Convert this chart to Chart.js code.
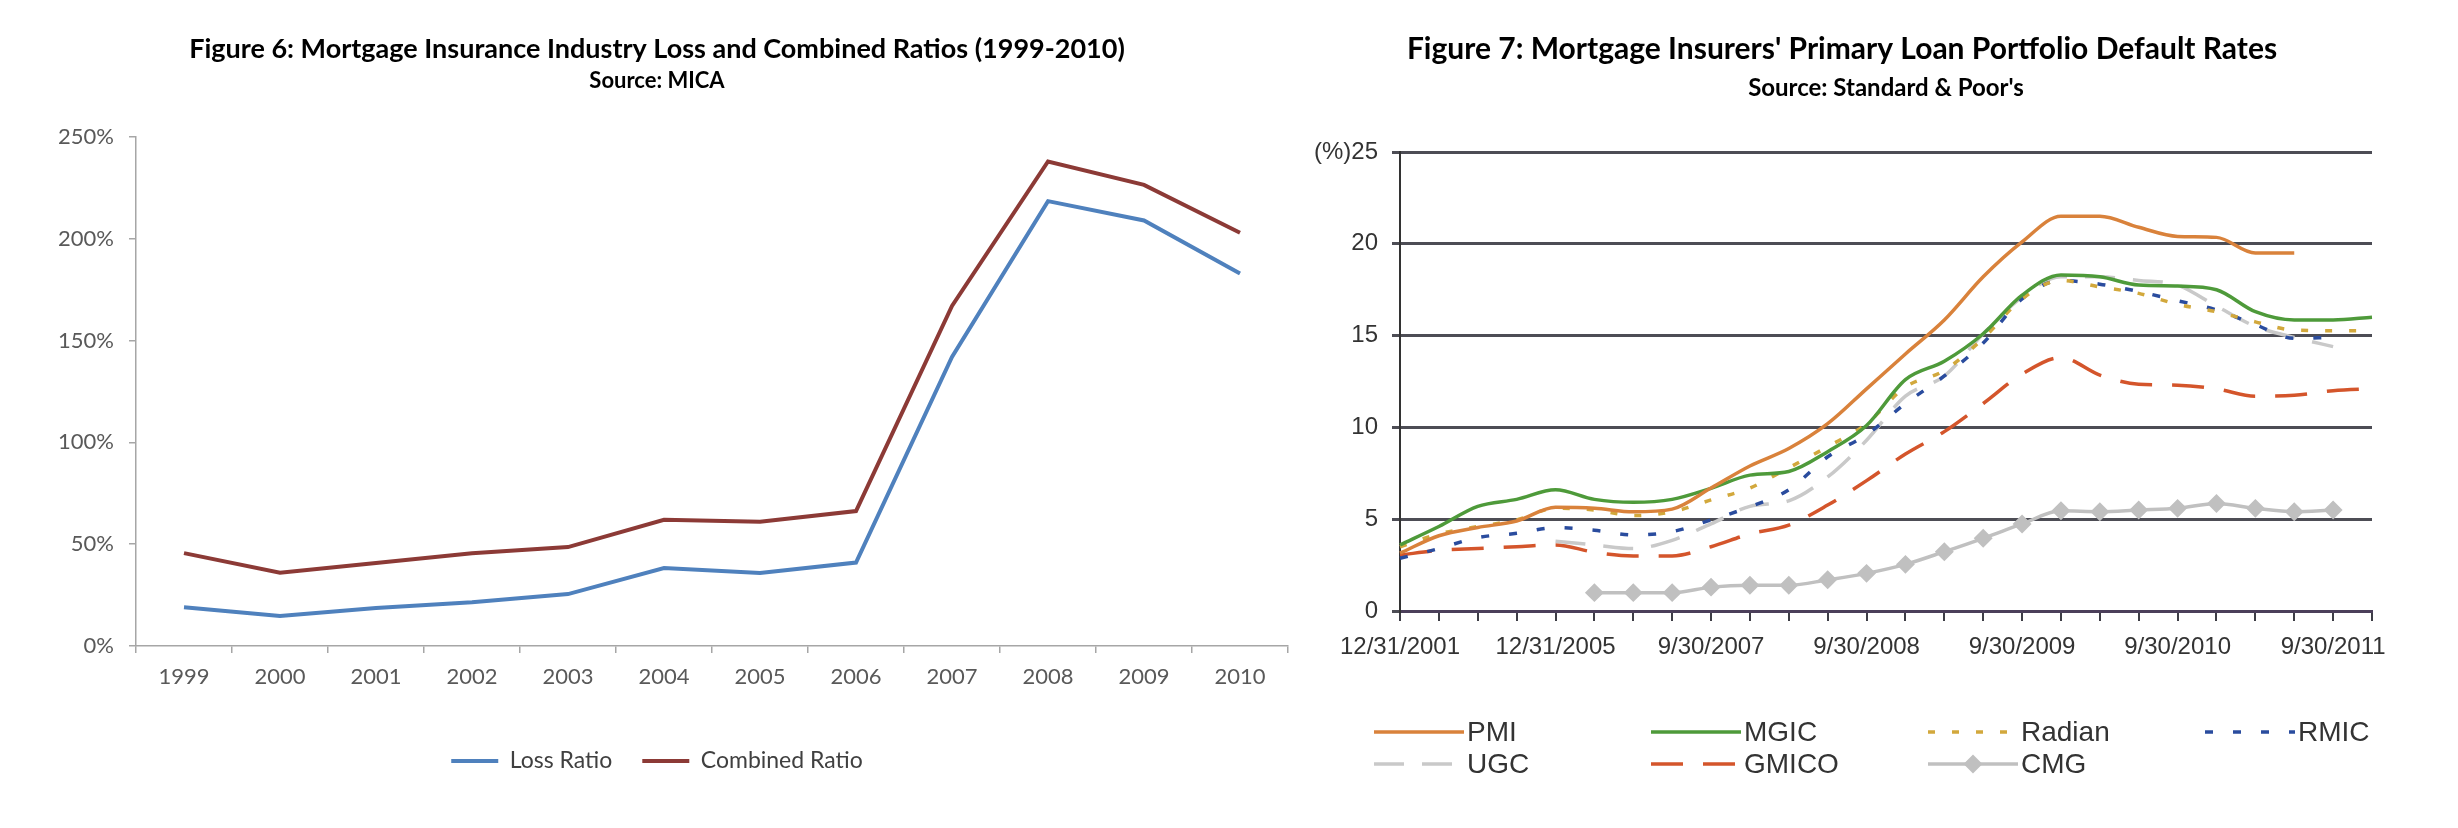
<!DOCTYPE html>
<html>
<head>
<meta charset="utf-8">
<script src="https://cdn.jsdelivr.net/npm/chart.js@4.4.1/dist/chart.umd.min.js"></script>
<style>
  html, body { margin: 0; padding: 0; background: #fff; overflow: hidden; }
  canvas { position: absolute; top: 0; }
  #ratioChart { left: 0; }
  #defaultChart { left: 1300px; }
</style>
</head>
<body>
<canvas id="ratioChart" width="1300" height="828"></canvas>
<canvas id="defaultChart" width="1158" height="828"></canvas>
<script>
// Figure 6 data (percent)
const years = ['1999', '2000', '2001', '2002', '2003', '2004', '2005', '2006', '2007', '2008', '2009', '2010'];
const lossRatio = [19, 14.7, 18.7, 21.5, 25.5, 38.3, 35.9, 41, 142, 218.5, 209, 183];
const combinedRatio = [45.6, 36, 40.8, 45.6, 48.6, 62, 61, 66.3, 167, 238, 226.5, 203];
const ratioTicks = ['0%', '50%', '100%', '150%', '200%', '250%'];

// Figure 7 data (default rate, %)
const quarters = [
  '12/31/2001', '12/31/2002', '12/31/2003', '12/31/2004', '12/31/2005', '6/30/2006',
  '12/31/2006', '6/30/2007', '9/30/2007', '12/31/2007', '3/31/2008', '6/30/2008',
  '9/30/2008', '12/31/2008', '3/31/2009', '6/30/2009', '9/30/2009', '12/31/2009',
  '3/31/2010', '6/30/2010', '9/30/2010', '12/31/2010', '3/31/2011', '6/30/2011',
  '9/30/2011', '12/31/2011'
];
const pmi    = [3.15, 4.1, 4.55, 4.9, 5.65, 5.6, 5.4, 5.55, 6.7, 7.9, 8.85, 10.2, 12.1, 14.0, 15.85, 18.2, 20.1, 21.5, 21.5, 20.9, 20.4, 20.35, 19.5, 19.5, null, null];
const mgic   = [3.6, 4.6, 5.7, 6.08, 6.6, 6.08, 5.92, 6.08, 6.68, 7.4, 7.6, 8.68, 10.1, 12.6, 13.6, 15.1, 17.2, 18.3, 18.2, 17.75, 17.7, 17.5, 16.3, 15.85, 15.85, 16.0];
const radian = [3.5, 4.2, 4.6, 4.96, 5.6, 5.5, 5.2, 5.4, 6.05, 6.7, 7.8, 8.95, 10.2, 12.2, 13.1, 14.85, 17.0, 18.0, 17.65, 17.3, 16.7, 16.3, 15.75, 15.3, 15.27, 15.27];
const rmic   = [2.87, 3.4, 4.0, 4.23, 4.54, 4.4, 4.14, 4.32, 4.96, 5.68, 6.6, 8.4, 9.6, 11.3, 12.8, 14.6, 17.0, 18.0, 17.8, 17.4, 16.9, 16.4, 15.6, 14.85, 14.9, null];
const ugc    = [null, null, null, null, 3.8, 3.6, 3.4, 3.85, 4.75, 5.7, 6.0, 7.3, 9.3, 11.7, 12.8, 15.1, 17.1, 18.2, 18.2, 18.0, 17.75, 16.6, 15.5, 14.9, 14.4, null];
const gmico  = [3.05, 3.3, 3.4, 3.5, 3.6, 3.2, 3.0, 3.0, 3.5, 4.2, 4.68, 5.77, 7.1, 8.55, 9.77, 11.3, 12.9, 13.8, 12.85, 12.35, 12.3, 12.1, 11.7, 11.75, 12.0, 12.1];
const cmg    = [null, null, null, null, null, 1.0, 1.0, 1.0, 1.3, 1.4, 1.4, 1.7, 2.05, 2.54, 3.23, 3.96, 4.74, 5.46, 5.41, 5.5, 5.59, 5.86, 5.59, 5.41, 5.5, null];
const defaultTicks = ['0', '5', '10', '15', '20', '(%)25'];

const calibriLike = 'Lato, "Open Sans", sans-serif';
const arialLike = '"Liberation Sans", Arial, sans-serif';

// ---------- Figure 6 ----------
const configRatio = {
  type: 'line',
  data: {
    labels: years,
    datasets: [
      { label: 'Loss Ratio', data: lossRatio, borderColor: '#4F81BD', backgroundColor: '#4F81BD', borderWidth: 4, pointRadius: 0, tension: 0 },
      { label: 'Combined Ratio', data: combinedRatio, borderColor: '#8C3A36', backgroundColor: '#8C3A36', borderWidth: 4, pointRadius: 0, tension: 0 }
    ]
  },
  options: {
    responsive: false,
    animation: false,
    layout: { padding: { left: 26, right: 12, top: 0, bottom: 45.5 } },
    scales: {
      x: {
        offset: true,
        grid: { offset: true, drawOnChartArea: false, tickLength: 7, color: '#A6A6A6', lineWidth: 1.5 },
        border: { color: '#A6A6A6', width: 1.5 },
        ticks: { font: { family: calibriLike, size: 22 }, color: '#595959', padding: 11, maxRotation: 0 },
        afterFit(scale) { scale.height = 73.5; }
      },
      y: {
        min: 0, max: 250,
        grid: { drawOnChartArea: false, tickLength: 7, color: '#A6A6A6', lineWidth: 1.5 },
        border: { color: '#A6A6A6', width: 1.5 },
        ticks: { stepSize: 50, font: { family: calibriLike, size: 22 }, color: '#595959', padding: 15,
                 callback: (v, i) => ratioTicks[i] },
        afterFit(scale) { scale.width = 110; }
      }
    },
    plugins: {
      title: {
        display: true,
        text: 'Figure 6: Mortgage Insurance Industry Loss and Combined Ratios (1999-2010)',
        color: '#000', font: { family: calibriLike, size: 27, weight: 'bold' },
        padding: { top: 32.8, bottom: 0 }
      },
      subtitle: {
        display: true, text: 'Source: MICA',
        color: '#000', font: { family: calibriLike, size: 22, weight: 'bold' },
        padding: { top: 2.6, bottom: 42.8 }
      },
      legend: {
        position: 'bottom',
        labels: { font: { family: calibriLike, size: 23 }, color: '#404040', usePointStyle: true,
                  pointStyle: 'line', pointStyleWidth: 47, padding: 30 }
      },
      tooltip: { enabled: false }
    }
  }
};

// ---------- Figure 7 ----------
// legend laid out in a grid of columns under the plot
const gridLegend = {
  id: 'gridLegend',
  afterDraw(chart, args, opts) {
    const { ctx, chartArea: { left, bottom } } = chart;
    ctx.save();
    ctx.font = `${opts.fontSize}px ${arialLike}`;
    ctx.textBaseline = 'middle';
    ctx.textAlign = 'left';
    chart.data.datasets.forEach((ds, i) => {
      const x = left + opts.offsetX + (i % opts.columns) * opts.columnWidth;
      const y = bottom + opts.offsetY + Math.floor(i / opts.columns) * opts.rowHeight;
      ctx.strokeStyle = ds.borderColor;
      ctx.lineWidth = ds.borderWidth;
      ctx.setLineDash(ds.borderDash || []);
      ctx.beginPath();
      ctx.moveTo(x, y);
      ctx.lineTo(x + opts.lineLength, y);
      ctx.stroke();
      ctx.setLineDash([]);
      if (ds.pointRadius > 0) {
        ctx.fillStyle = ds.pointBackgroundColor;
        Chart.helpers.drawPoint(ctx, { pointStyle: ds.pointStyle, radius: ds.pointRadius, rotation: 0, borderWidth: 1 },
          x + opts.lineLength / 2, y);
      }
      ctx.fillStyle = '#333';
      ctx.fillText(ds.label, x + opts.lineLength + 3, y + 1);
    });
    ctx.restore();
  }
};

function lineSet(label, data, color, dash) {
  return { label, data, borderColor: color, backgroundColor: color, borderWidth: 3.5, borderDash: dash,
           pointRadius: 0, cubicInterpolationMode: 'monotone', borderJoinStyle: 'round', spanGaps: false };
}

const configDefault = {
  type: 'line',
  data: {
    labels: quarters,
    datasets: [
      lineSet('PMI', pmi, '#D9823B', []),
      lineSet('MGIC', mgic, '#4E9A3A', []),
      lineSet('Radian', radian, '#D2A83C', [7, 17]),
      lineSet('RMIC', rmic, '#2A4C9E', [8, 20]),
      lineSet('UGC', ugc, '#C9C9C9', [30, 18]),
      lineSet('GMICO', gmico, '#D4552B', [32, 20]),
      Object.assign(lineSet('CMG', cmg, '#C0C0C0', []), {
        pointRadius: 7, pointStyle: 'rectRot', pointBackgroundColor: '#C0C0C0', pointBorderColor: '#C0C0C0'
      })
    ]
  },
  options: {
    responsive: false,
    animation: false,
    layout: { padding: { left: 12, right: 86, top: 0, bottom: 157 } },
    scales: {
      x: {
        offset: false,
        grid: { drawOnChartArea: false, tickLength: 10, color: '#3d3d45', lineWidth: 2 },
        border: { color: '#4b3f5a', width: 3 },
        ticks: { autoSkip: false, maxRotation: 0, minRotation: 0, font: { family: arialLike, size: 24 },
                 color: '#333', padding: 11.6,
                 callback: (v, i) => (i % 4 === 0 ? quarters[i] : '') },
        afterFit(scale) { scale.height = 60; }
      },
      y: {
        min: 0, max: 25,
        grid: { color: '#4d4d55', lineWidth: 3, tickLength: 8 },
        border: { color: '#333', width: 2 },
        ticks: { stepSize: 5, font: { family: arialLike, size: 24 }, color: '#333', padding: 14,
                 callback: (v, i) => defaultTicks[i] },
        afterFit(scale) { scale.width = 88; }
      }
    },
    plugins: {
      title: {
        display: true,
        text: "Figure 7: Mortgage Insurers' Primary Loan Portfolio Default Rates",
        color: '#000', font: { family: calibriLike, size: 30, weight: 'bold' },
        padding: { top: 31, bottom: 0 }
      },
      subtitle: {
        display: true, text: "Source: Standard & Poor's", fullSize: false,
        color: '#000', font: { family: calibriLike, size: 24, weight: 'bold' },
        padding: { top: 6.6, bottom: 49.6 }
      },
      legend: { display: false },
      tooltip: { enabled: false },
      gridLegend: { columns: 4, columnWidth: 277, rowHeight: 32, offsetX: -26, offsetY: 121, lineLength: 90, fontSize: 28 }
    }
  },
  plugins: [gridLegend]
};

const ratioChart = new Chart(document.getElementById('ratioChart'), configRatio);
const defaultChart = new Chart(document.getElementById('defaultChart'), configDefault);
</script>
</body>
</html>
